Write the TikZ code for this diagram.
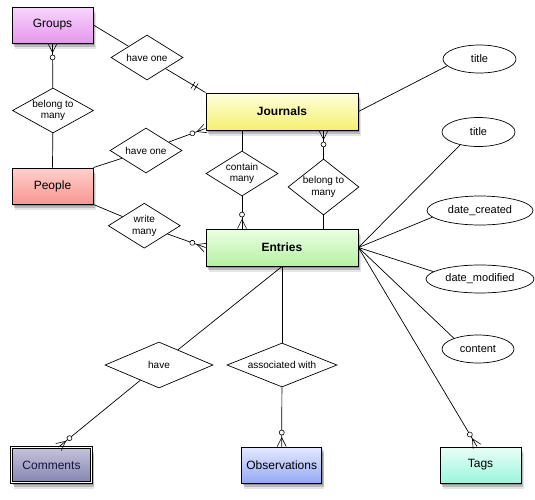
\documentclass[tikz,border=0pt]{standalone}
\usepackage{fontspec}
\setmainfont{Liberation Sans}
\usetikzlibrary{shapes.geometric,shadows,decorations.markings,calc}
\definecolor{grpT}{RGB}{247,214,251}
\definecolor{grpB}{RGB}{230,150,240}
\definecolor{pplT}{RGB}{255,208,204}
\definecolor{pplB}{RGB}{247,150,145}
\definecolor{jrnT}{RGB}{255,255,222}
\definecolor{jrnB}{RGB}{245,240,112}
\definecolor{entT}{RGB}{236,255,228}
\definecolor{entB}{RGB}{182,240,162}
\definecolor{comT}{RGB}{196,196,220}
\definecolor{comB}{RGB}{132,132,178}
\definecolor{obsT}{RGB}{228,234,255}
\definecolor{obsB}{RGB}{150,168,245}
\definecolor{tagT}{RGB}{232,255,246}
\definecolor{tagB}{RGB}{156,245,222}
\definecolor{navy}{RGB}{20,20,60}
\begin{document}
\begin{tikzpicture}[x=1pt,y=-1pt,
  softshadow/.style={
    drop shadow={shadow xshift=1pt,shadow yshift=-2pt,fill=black,opacity=0.22},
    drop shadow={shadow xshift=2pt,shadow yshift=-4pt,fill=black,opacity=0.18},
    drop shadow={shadow xshift=2.5pt,shadow yshift=-6pt,fill=black,opacity=0.10}},
  entity/.style={rectangle,draw=black,line width=0.9pt,minimum width=81pt,
    minimum height=36pt,inner sep=0pt,softshadow,
    font=\fontsize{12}{14}\selectfont},
  bigentity/.style={entity,minimum width=152pt,minimum height=37pt,
    font=\fontsize{12}{14}\selectfont\bfseries},
  rel/.style={diamond,draw=black,line width=0.7pt,fill=white,inner sep=0pt,
    align=center,font=\fontsize{10}{11.7}\selectfont},
  attr/.style={ellipse,draw=black,line width=0.7pt,fill=white,inner sep=0pt,
    minimum width=73pt,minimum height=28pt,font=\fontsize{11}{13}\selectfont},
  conn/.style={draw=black,line width=0.7pt},
  zmany/.style={postaction={decorate,decoration={markings,
    mark=at position 1 with {
      \draw[line width=0.6pt] (-9pt,0pt) -- (0pt,4.5pt) (-9pt,0pt) -- (0pt,-4.5pt);
      \draw[line width=0.6pt,fill=white] (-14pt,0pt) circle (2.5pt);}}}},
  oneone/.style={postaction={decorate,decoration={markings,
    mark=at position 1 with {
      \draw[line width=0.6pt] (-11pt,-4pt) -- (-11pt,4pt) (-14.5pt,-4pt) -- (-14.5pt,4pt);}}}}
]
\useasboundingbox (0,0) rectangle (535,499);
\fill[white] (0,0) rectangle (535,499);

% entities
\node[entity,top color=grpT,bottom color=grpB] (Groups) at (52.5,25) {Groups};
\node[entity,top color=pplT,bottom color=pplB] (People) at (52.5,186) {People};
\node[bigentity,top color=jrnT,bottom color=jrnB] (Journals) at (282,111.5) {Journals};
\node[bigentity,top color=entT,bottom color=entB] (Entries) at (282,247.5) {Entries};
\node[entity,top color=comT,bottom color=comB,double=white,double distance=1.2pt,
  line width=0.8pt,minimum width=80pt,minimum height=35pt,text=navy] (Comments) at (51.5,465) {Comments};
\node[entity,top color=obsT,bottom color=obsB,minimum width=80pt] (Observations) at (281.7,465) {Observations};
\node[entity,top color=tagT,bottom color=tagB] (Tags) at (480.5,465) {Tags};

% relationships
\node[rel,minimum width=72pt,minimum height=45pt,shape aspect=1.6] (haveoneG) at (147,57.5) {have one};
\node[rel,minimum width=81pt,minimum height=45pt,shape aspect=1.8] (belongG) at (53,110.5) {belong to\\many};
\node[rel,minimum width=72pt,minimum height=45pt,shape aspect=1.6] (haveoneP) at (146,150.5) {have one};
\node[rel,minimum width=72pt,minimum height=45pt,shape aspect=1.6] (writemany) at (144.3,225.7) {write\\many};
\node[rel,minimum width=72pt,minimum height=45pt,shape aspect=1.6] (contain) at (242,173.5) {contain\\many};
\node[rel,minimum width=71pt,minimum height=56pt,shape aspect=1.27] (belongJ) at (323.5,187) {belong to\\many};
\node[rel,minimum width=108pt,minimum height=46pt,shape aspect=2.3] (have) at (159,365) {have};
\node[rel,minimum width=110pt,minimum height=44pt,shape aspect=2.5] (assoc) at (282,365) {associated with};

% attributes
\node[attr] (title1) at (479.5,59) {title};
\node[attr,minimum height=29pt] (title2) at (478.5,132) {title};
\node[attr,minimum width=106pt,minimum height=29pt] (created) at (480,210.5) {date\_created};
\node[attr,minimum width=108pt] (modified) at (480,279) {date\_modified};
\node[attr,minimum width=72pt] (content) at (478,349) {content};

% connectors
\draw[conn] (Groups.east) -- (haveoneG);
\draw[conn,oneone] (haveoneG) -- (Journals.north west);
\draw[conn,zmany] (belongG) -- (Groups.south);
\draw[conn] (belongG) -- (People.north);
\draw[conn] (People.north east) -- (haveoneP);
\draw[conn,zmany] (haveoneP) -- ([yshift=2pt]Journals.south west);
\draw[conn] (People.south east) -- (writemany);
\draw[conn,zmany] (writemany) -- (Entries.west);
\draw[conn] (contain |- Journals.south) -- (contain);
\draw[conn,zmany] (contain) -- (contain |- Entries.north);
\draw[conn,zmany] (belongJ) -- (belongJ |- Journals.south);
\draw[conn] (belongJ) -- (belongJ |- Entries.north);
\draw[conn] (Journals.east) -- (title1.192);
\draw[conn] (Entries.east) -- (title2.215);
\draw[conn] (Entries.east) -- (created.188);
\draw[conn] (Entries.east) -- (modified.171);
\draw[conn] (Entries.east) -- (content.156);
\draw[conn,zmany] (Entries.east) -- ([xshift=-3.5pt]Tags.north);
\draw[conn] (Entries.south) -- (have);
\draw[conn,zmany] (have) -- ([xshift=7pt]Comments.north);
\draw[conn] (Entries.south) -- (assoc);
\draw[conn,zmany] (assoc) -- (Observations.north);
\end{tikzpicture}
\end{document}
